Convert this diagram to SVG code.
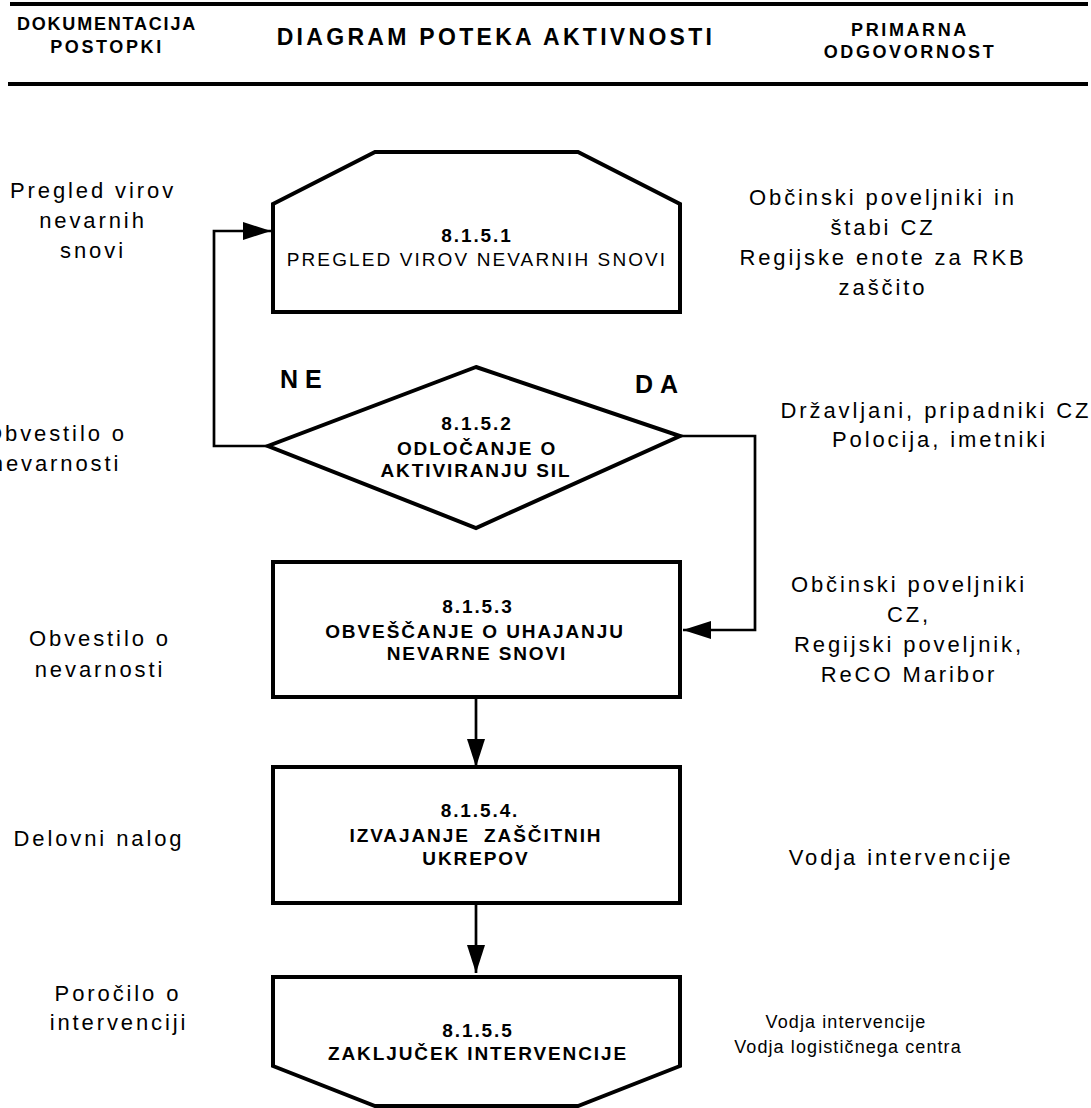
<svg xmlns="http://www.w3.org/2000/svg" width="1091" height="1108" viewBox="0 0 1091 1108">
<style>
text{font-family:"Liberation Sans",Arial,sans-serif;fill:#000;text-anchor:middle}
.hd{font-size:18px;font-weight:bold;letter-spacing:2.6px}
.ttl{font-size:23px;font-weight:bold;letter-spacing:3.3px}
.lbl{font-size:22px;letter-spacing:2.9px}
.sm{font-size:18px;letter-spacing:1.1px}
.nb{font-size:19px;font-weight:bold;letter-spacing:1.9px}
.nr{font-size:19px;letter-spacing:2.1px}
.yn{font-size:25px;font-weight:bold;letter-spacing:7px;text-anchor:start}
.shape{fill:#fff;stroke:#000;stroke-width:4;stroke-linejoin:miter}
.rule{stroke:#000;stroke-width:4}
.conn{fill:none;stroke:#000;stroke-width:2.7}
</style>
<defs>
<marker id="arr" viewBox="0 0 28 18" markerWidth="28" markerHeight="18" refX="28" refY="9" orient="auto" markerUnits="userSpaceOnUse">
<path d="M0,0 L28,9 L0,18 z" fill="#000"/>
</marker>
</defs>
<g id="header">
<line class="rule" x1="10" y1="4" x2="1088" y2="4"/>
<text class="hd" x="107" y="30" style="letter-spacing:1.8px">DOKUMENTACIJA</text>
<text class="hd" x="107" y="53">POSTOPKI</text>
<text class="ttl" x="496" y="45">DIAGRAM POTEKA AKTIVNOSTI</text>
<text class="hd" x="910" y="36">PRIMARNA</text>
<text class="hd" x="910" y="58">ODGOVORNOST</text>
<line class="rule" x1="8" y1="84" x2="1088" y2="84"/>
</g>
<g id="connectors">
<path class="conn" d="M268,446 H214 V231 H271" marker-end="url(#arr)"/>
<path class="conn" d="M680,436 H755 V630 H683" marker-end="url(#arr)"/>
<path class="conn" d="M476,697 V767" marker-end="url(#arr)"/>
<path class="conn" d="M476,903 V973" marker-end="url(#arr)"/>
</g>
<g id="n1">
<polygon class="shape" points="273,204 375,152 578,152 680,204 680,312 273,312"/>
<text class="nb" x="477" y="242">8.1.5.1</text>
<text class="nr" x="477" y="266">PREGLED VIROV NEVARNIH SNOVI</text>
</g>
<g id="n2">
<polygon class="shape" points="476,367 680,436 476,528 268,446"/>
<text class="nb" x="477" y="430">8.1.5.2</text>
<text class="nb" x="477" y="455">ODLOČANJE O</text>
<text class="nb" x="476" y="477">AKTIVIRANJU SIL</text>
</g>
<g id="n3">
<rect class="shape" x="273" y="562" width="407" height="135"/>
<text class="nb" x="478" y="613">8.1.5.3</text>
<text class="nb" x="475" y="638">OBVEŠČANJE O UHAJANJU</text>
<text class="nb" x="477" y="660">NEVARNE SNOVI</text>
</g>
<g id="n4">
<rect class="shape" x="273" y="767" width="407" height="136"/>
<text class="nb" x="480" y="817">8.1.5.4.</text>
<text class="nb" x="476" y="842" xml:space="preserve">IZVAJANJE  ZAŠČITNIH</text>
<text class="nb" x="476" y="865">UKREPOV</text>
</g>
<g id="n5">
<polygon class="shape" points="273,977 680,977 680,1066 578,1106 375,1106 273,1066"/>
<text class="nb" x="478" y="1037">8.1.5.5</text>
<text class="nb" x="478" y="1060">ZAKLJUČEK INTERVENCIJE</text>
</g>
<g id="labels-left">
<text class="lbl" x="93" y="198">Pregled virov</text>
<text class="lbl" x="93" y="228">nevarnih</text>
<text class="lbl" x="93" y="258">snovi</text>
<text class="lbl" x="56" y="441">Obvestilo o</text>
<text class="lbl" x="56" y="471">nevarnosti</text>
<text class="lbl" x="100" y="646">Obvestilo o</text>
<text class="lbl" x="100" y="677">nevarnosti</text>
<text class="lbl" x="99" y="846">Delovni nalog</text>
<text class="lbl" x="118" y="1001">Poročilo o</text>
<text class="lbl" x="119" y="1030">intervenciji</text>
</g>
<g id="labels-right">
<text class="lbl" x="883" y="205">Občinski poveljniki in</text>
<text class="lbl" x="883" y="235">štabi CZ</text>
<text class="lbl" x="883" y="265">Regijske enote za RKB</text>
<text class="lbl" x="883" y="295">zaščito</text>
<text class="lbl" x="936" y="418">Državljani, pripadniki CZ</text>
<text class="lbl" x="940" y="447">Polocija, imetniki</text>
<text class="lbl" x="909" y="592">Občinski poveljniki</text>
<text class="lbl" x="909" y="622">CZ,</text>
<text class="lbl" x="909" y="652">Regijski poveljnik,</text>
<text class="lbl" x="909" y="682">ReCO Maribor</text>
<text class="lbl" x="901" y="865">Vodja intervencije</text>
<text class="sm" x="846" y="1028">Vodja intervencije</text>
<text class="sm" x="848" y="1053">Vodja logističnega centra</text>
</g>
<g id="decision-labels">
<text class="yn" x="280" y="388">NE</text>
<text class="yn" x="635" y="393">DA</text>
</g>
</svg>
